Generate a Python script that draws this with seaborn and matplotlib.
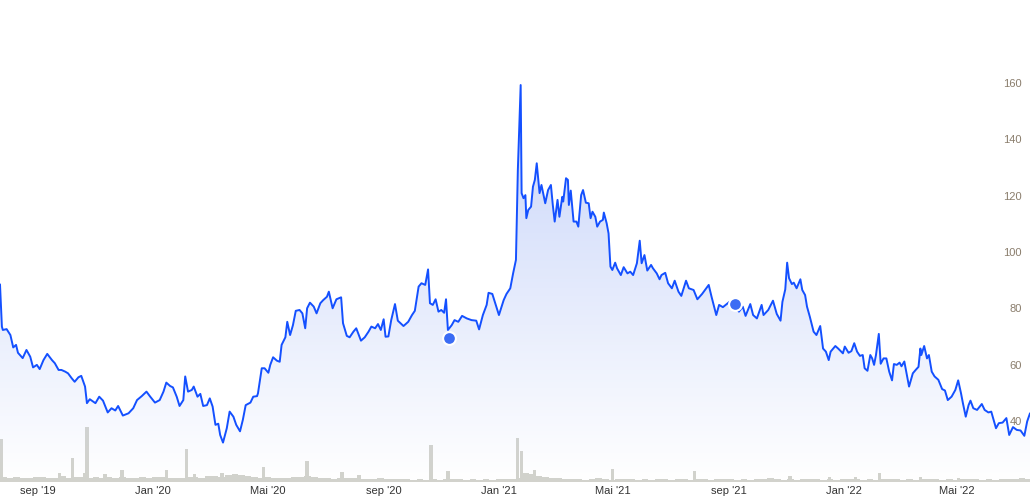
import numpy as np
import pandas as pd
import seaborn as sns
import matplotlib.pyplot as plt
import matplotlib.dates as mdates
from matplotlib.colors import LinearSegmentedColormap

# price series, days counted from the first session shown
start = pd.Timestamp('2019-07-23')

day = [0, 2, 3, 7, 11, 14, 17, 19, 24, 28,
       32, 35, 39, 42, 46, 50, 55, 58, 62, 65,
       69, 72, 76, 79, 83, 86, 90, 92, 95, 101,
       105, 109, 114, 118, 122, 125, 130, 136, 141, 145,
       150, 155, 159, 164, 169, 173, 176, 180, 183, 187,
       190, 194, 196, 199, 203, 205, 209, 212, 215, 219,
       222, 225, 228, 231, 233, 236, 240, 243, 247, 250,
       254, 257, 260, 265, 268, 272, 273, 277, 280, 284,
       286, 289, 293, 296, 298, 302, 304, 307, 310, 313,
       317, 320, 323, 325, 328, 332, 335, 339, 342, 346,
       348, 352, 356, 361, 363, 367, 370, 374, 377, 382,
       386, 390, 393, 397, 400, 403, 406, 408, 411, 414,
       418, 421, 427, 432, 436, 439, 443, 446, 450, 453,
       455, 458, 461, 464, 467, 470, 472, 474, 478, 481,
       485, 489, 494, 499, 504, 507, 511, 515, 517, 521,
       525, 528, 533, 536, 540, 543, 546, 548, 551, 552,
       554, 556, 557, 559, 562, 564, 566, 568, 571, 573,
       577, 580, 583, 585, 587, 590, 592, 595, 596, 599,
       601, 602, 604, 607, 610, 612, 615, 617, 620, 623,
       625, 627, 630, 632, 635, 638, 639, 642, 644, 646,
       648, 651, 653, 657, 660, 664, 667, 670, 674, 677,
       679, 682, 685, 689, 691, 695, 698, 700, 704, 707,
       711, 714, 718, 721, 726, 729, 734, 738, 743, 746,
       750, 753, 758, 761, 765, 768, 772, 778, 782, 786,
       789, 794, 797, 801, 806, 808, 813, 818, 822, 826,
       828, 831, 833, 835, 838, 840, 843, 847, 849, 852,
       854, 857, 861, 864, 868, 871, 874, 877, 879, 884,
       887, 892, 894, 898, 901, 904, 907, 910, 913, 915,
       918, 921, 923, 925, 927, 930, 932, 935, 938, 941,
       944, 946, 949, 952, 954, 957, 959, 962, 966, 969,
       972, 974, 975, 978, 981, 983, 986, 989, 993, 997,
       1000, 1003, 1007, 1011, 1014, 1017, 1019, 1022, 1025, 1027,
       1030, 1034, 1039, 1042, 1046, 1049, 1054, 1057, 1061, 1065,
       1068, 1072, 1076, 1080, 1084, 1087, 1090]

price = [88.5, 73.5, 72.3, 72.6, 70.5, 66.1, 67.0, 64.2, 62.3, 65.2,
         62.8, 59.0, 59.9, 58.4, 61.6, 63.8, 61.6, 60.5, 58.1, 58.1,
         57.5, 56.9, 55.1, 53.9, 55.5, 56.0, 52.2, 46.3, 47.7, 46.3,
         48.6, 47.2, 43.0, 44.5, 43.7, 45.3, 41.9, 42.7, 44.5, 47.4,
         48.8, 50.4, 48.6, 46.5, 47.4, 50.4, 53.6, 52.4, 51.9, 48.6,
         45.3, 47.4, 55.8, 50.4, 51.0, 52.2, 48.6, 49.6, 45.3, 45.6,
         48.0, 45.1, 38.6, 39.0, 35.0, 32.3, 37.4, 43.3, 41.5, 38.6,
         36.3, 40.4, 45.6, 46.5, 48.6, 48.8, 49.8, 58.7, 58.7, 57.1,
         59.9, 62.6, 61.4, 61.0, 67.0, 69.7, 75.2, 70.5, 74.0, 79.1,
         79.4, 78.2, 72.9, 80.0, 82.0, 80.6, 78.2, 81.8, 82.9, 84.1,
         85.9, 80.0, 83.2, 83.9, 74.7, 70.2, 69.7, 71.7, 72.9, 68.5,
         69.7, 71.7, 73.5, 72.9, 74.4, 72.3, 76.1, 69.9, 70.0, 75.8,
         81.5, 75.6, 73.7, 75.2, 77.6, 79.1, 87.7, 88.9, 88.3, 93.8,
         81.8, 81.2, 83.2, 78.8, 79.4, 78.4, 83.2, 72.3, 74.0, 75.8,
         75.2, 77.3, 76.4, 75.8, 75.6, 72.5, 77.6, 81.2, 85.5, 85.1,
         80.8, 77.6, 82.9, 85.1, 87.1, 92.4, 97.2, 129.1, 159.3, 120.9,
         119.1, 120.2, 112.0, 114.9, 116.1, 123.2, 125.6, 131.5, 120.9, 123.8,
         117.3, 122.0, 123.8, 116.7, 110.8, 118.5, 112.5, 119.6, 117.9, 126.2,
         125.6, 116.7, 121.8, 110.8, 110.8, 109.0, 120.2, 122.0, 117.5, 117.3,
         112.0, 114.3, 112.5, 109.0, 110.8, 111.4, 114.0, 110.2, 106.6, 94.8,
         93.6, 96.2, 94.2, 91.8, 94.6, 92.4, 93.0, 91.8, 96.0, 104.0,
         96.0, 98.9, 93.4, 95.4, 94.2, 92.4, 90.3, 91.8, 92.6, 88.9,
         87.1, 89.8, 85.9, 84.4, 89.8, 87.1, 86.5, 83.2, 85.1, 86.5,
         88.3, 84.1, 77.6, 81.2, 80.4, 81.2, 82.3, 80.4, 78.8, 80.6,
         77.3, 81.5, 77.6, 76.4, 81.2, 77.6, 79.4, 82.7, 78.0, 75.6,
         82.3, 86.7, 96.2, 90.7, 88.6, 89.1, 87.1, 90.3, 86.5, 84.7,
         80.6, 77.0, 71.7, 70.5, 73.7, 65.7, 64.6, 61.6, 64.6, 66.6,
         65.7, 64.0, 66.4, 64.2, 64.8, 67.6, 64.6, 63.1, 63.4, 58.7,
         57.8, 63.4, 62.2, 59.9, 63.4, 70.9, 60.3, 62.2, 62.2, 57.5,
         54.4, 60.2, 59.9, 60.7, 59.4, 61.1, 57.5, 52.2, 56.9, 58.1,
         59.2, 65.7, 63.4, 66.6, 62.2, 63.4, 57.5, 55.8, 54.6, 51.3,
         50.8, 47.4, 48.6, 51.0, 54.4, 49.8, 46.3, 41.5, 45.6, 47.2,
         44.5, 43.9, 46.0, 43.9, 43.0, 43.3, 37.4, 39.2, 39.4, 41.0,
         35.0, 37.8, 36.8, 36.6, 34.7, 39.8, 42.7]

# weekly base volume (thousands of shares)
vol_week = [500, 450, 500, 400, 450, 550, 500, 450, 400, 600, 450, 500, 550,
            450, 500, 400, 550, 450, 500, 450, 400, 500, 450, 550, 500, 450, 400, 450, 500, 550, 450,
            600, 650, 550, 700, 800, 750, 600, 500, 450, 500,
            450, 400, 450, 500, 550, 600, 500, 450, 400, 350, 400, 450, 400, 350, 300, 350, 400, 350, 300, 350,
            300, 250, 300, 250, 300, 250, 300, 350, 300, 250, 300, 250, 300, 250, 300, 350, 300, 400,
            900, 800, 600, 500, 450, 400, 350,
            300, 350, 250, 300, 400, 300, 250, 300, 350, 300,
            250, 300, 250, 350, 300, 250, 300, 300, 250, 350,
            300, 250, 300, 350, 300, 250, 300, 250, 300, 350,
            400, 300, 250, 300, 250, 300, 350, 300, 250, 300,
            250, 300, 350, 300, 250, 300, 250, 300, 350, 300,
            250, 300, 250, 300, 350, 300, 250, 300, 250, 300,
            350, 300, 250, 300, 250, 300, 350, 300, 400, 300]

# heavy trading sessions
spike_day = [1, 63, 77, 90, 92, 111, 129, 176, 197, 206, 235, 279, 325, 362,
             380, 456, 474, 548, 552, 566, 648, 735, 836, 878, 905, 931, 974, 1014]
spike_vol = [4300, 900, 2400, 900, 5500, 800, 1200, 1200, 3300, 800, 900, 1500, 2100, 1000,
             700, 3700, 1100, 4400, 3100, 1200, 1300, 1100, 600, 500, 500, 900, 500, 400]

event_day = [475, 778]
event_price = [69.4, 81.5]

tick_dates = ['2019-09-01', '2020-01-01', '2020-05-01', '2020-09-01', '2021-01-01',
              '2021-05-01', '2021-09-01', '2022-01-01', '2022-05-01']
tick_labels = ["sep '19", "Jan '20", "Mai '20", "sep '20", "Jan '21",
               "Mai '21", "sep '21", "Jan '22", "Mai '22"]
price_ticks = [40, 60, 80, 100, 120, 140, 160]

assert len(day) == len(price)

df = pd.DataFrame({'date': start + pd.to_timedelta(day, unit='D'), 'price': price})
vol = pd.DataFrame({'date': start + pd.to_timedelta(np.arange(len(vol_week)) * 7, unit='D'),
                    'volume': vol_week})
spikes = pd.DataFrame({'date': start + pd.to_timedelta(spike_day, unit='D'), 'volume': spike_vol})
events = pd.DataFrame({'date': start + pd.to_timedelta(event_day, unit='D'), 'price': event_price})

sns.set_style('white')
plt.rcParams['font.family'] = ['Liberation Sans', 'DejaVu Sans']

fig = plt.figure(figsize=(10.3, 5.01), dpi=100)
rect = [0, 19 / 501, 1, 482 / 501]
ax_vol = fig.add_axes(rect)
ax = fig.add_axes(rect, sharex=ax_vol)
ax.patch.set_alpha(0)

# volume underneath
bar_color = '#d2d2cc'
ax_vol.bar(vol['date'], vol['volume'], width=7, align='edge', color=bar_color, linewidth=0)
ax_vol.bar(spikes['date'], spikes['volume'], width=3.5, color=bar_color, linewidth=0)
ax_vol.set_ylim(0, 48200)
ax_vol.axis('off')

ybot, ytop = 18.3, 189.5
x0 = start
x1 = start + pd.Timedelta(days=1090)

# gradient area under the price line (transparent at the bottom so volume shows)
poly = ax.fill_between(df['date'], df['price'], ybot, color='none', linewidth=0)
cmap = LinearSegmentedColormap.from_list(
    'area', [(0.78, 0.83, 0.98, 0.0), (0.78, 0.83, 0.98, 1.0)])
grad = np.linspace(0, 1, 256).reshape(-1, 1)
xn = mdates.date2num([x0, x1])
im = ax.imshow(grad, cmap=cmap, origin='lower', aspect='auto',
               extent=[xn[0], xn[1], ybot, 162], zorder=1)
im.set_clip_path(poly.get_paths()[0], transform=ax.transData)

sns.lineplot(data=df, x='date', y='price', ax=ax, color='#1450ff', linewidth=1.4, zorder=3)
sns.scatterplot(data=events, x='date', y='price', ax=ax, s=85, color='#3b6cf4',
                edgecolor='white', linewidth=1.5, zorder=5)

ax.set_xlim(x0, x1)
ax.set_ylim(ybot, ytop)
ax.set_xlabel('')
ax.set_ylabel('')

ax.set_xticks(pd.to_datetime(tick_dates))
ax.set_xticklabels(tick_labels)
ax.tick_params(axis='x', length=0, pad=3, labelsize=8, labelcolor='#333333')

ax.yaxis.tick_right()
ax.set_yticks(price_ticks)
ax.tick_params(axis='y', length=0, pad=-6, labelsize=8, labelcolor='#8a7d6c')
for lbl in ax.get_yticklabels():
    lbl.set_horizontalalignment('right')

sns.despine(ax=ax, left=True, bottom=True, right=True, top=True)

fig.savefig('out.png', dpi=100)
